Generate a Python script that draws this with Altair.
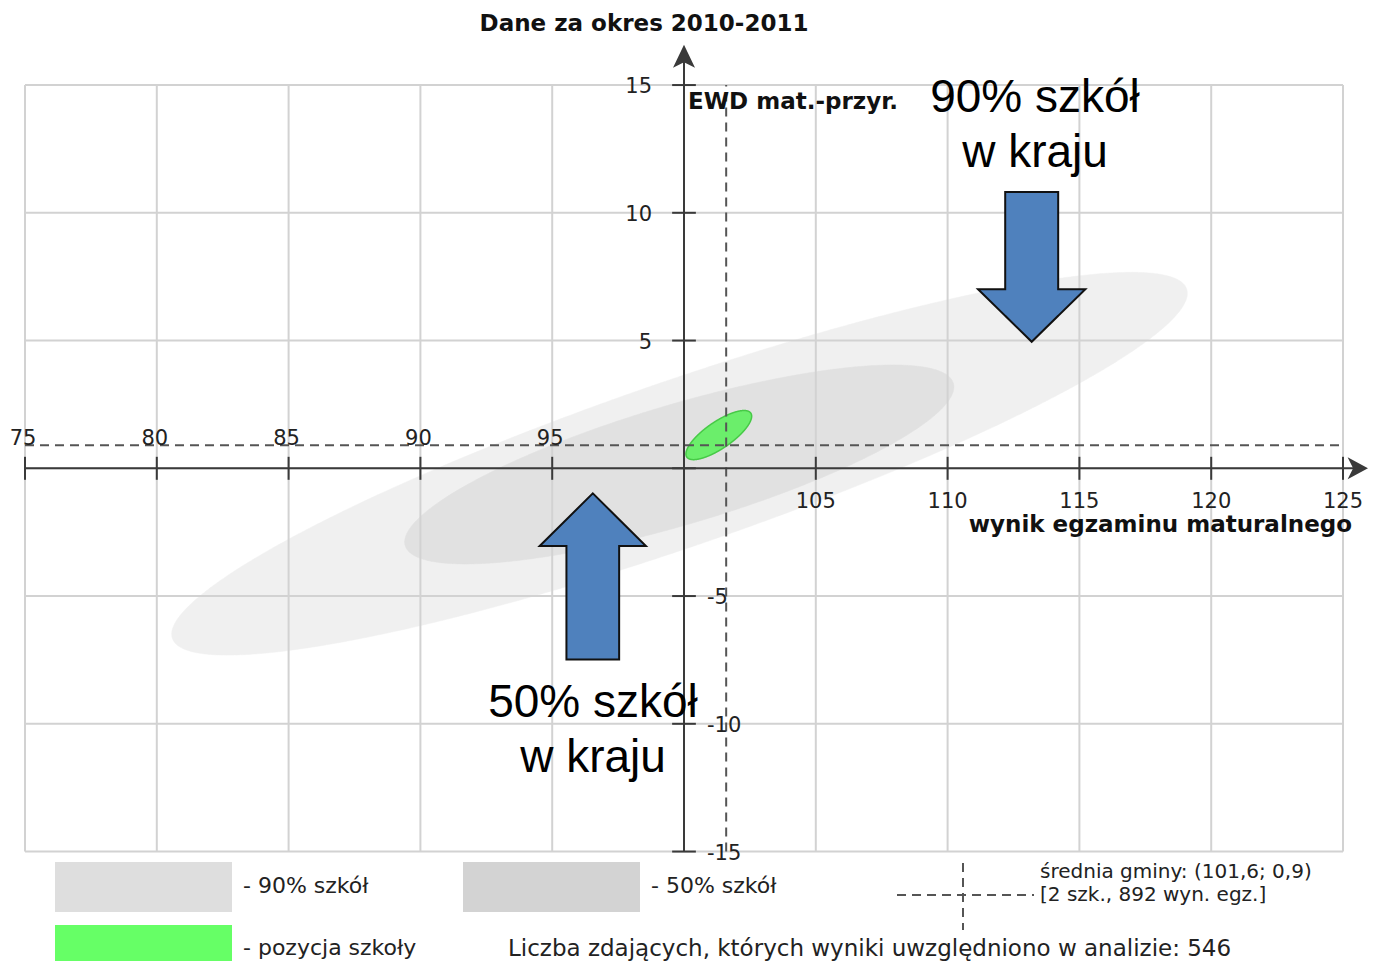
import altair as alt
import numpy as np
import pandas as pd

# ---------------- values ----------------
x_ticks = [75, 80, 85, 90, 95, 100, 105, 110, 115, 120, 125]
y_ticks = [-15, -10, -5, 0, 5, 10, 15]
x_labels_above = [75, 80, 85, 90, 95]
x_labels_below = [105, 110, 115, 120, 125]
y_labels_pos = [5, 10, 15]
y_labels_neg = [-5, -10, -15]

gmina_mean_x = 101.6
gmina_mean_y = 0.9

# ellipses: centre and two conjugate semi-diameters (data units)
ell_names = ["90% szkół", "50% szkół", "pozycja szkoły"]
ell_cx = [99.83, 99.82, 101.32]
ell_cy = [0.18, 0.15, 1.30]
ell_ax = [19.24, 10.40, 1.214]
ell_ay = [6.84, 3.18, 0.860]
ell_bx = [-1.016, -0.646, -0.285]
ell_by = [3.056, 2.25, 0.430]
ell_fill = ["#f0f0f0", "#e1e1e1", "#6bee6b"]
ell_stroke = ["#f0f0f0", "#e1e1e1", "#47c947"]

# block arrows (annotation): tip, head base, shaft end (data units)
arrow_tip_x = [113.19, 96.54]
arrow_tip_y = [4.95, -0.98]
arrow_base_y = [7.01, -3.04]
arrow_end_y = [10.81, -7.48]
arrow_head_half = [2.035, 2.015]
arrow_shaft_half = [1.005, 1.0]

title_text = "Dane za okres 2010-2011"
y_title = "EWD mat.-przyr."
x_title = "wynik egzaminu maturalnego"
note_90 = "90% szkół\nw kraju"
note_50 = "50% szkół\nw kraju"
legend_90 = "- 90% szkół"
legend_50 = "- 50% szkół"
legend_pos = "- pozycja szkoły"
legend_mean_1 = "średnia gminy: (101,6; 0,9)"
legend_mean_2 = "[2 szk., 892 wyn. egz.]"
count_text = "Liczba zdających, których wyniki uwzględniono w analizie: 546"

# ---------------- layout ----------------
W, H = 1363, 953
YMAX = 18.0157
XS = alt.Scale(domain=[74.3551, 126.062], nice=False, zero=False)
YS = alt.Scale(domain=[YMAX - H / 25.55, YMAX], nice=False, zero=False)
FONT = "DejaVu Sans"


def X(f="x"):
    return alt.X(f"{f}:Q", scale=XS, axis=None)


def Y(f="y"):
    return alt.Y(f"{f}:Q", scale=YS, axis=None)


def ellipse_frame(i, n=400):
    cx, cy = ell_cx[i], ell_cy[i]
    M = np.array([[ell_ax[i], ell_bx[i]], [ell_ay[i], ell_by[i]]])
    Mi = np.linalg.inv(M)
    p, q = Mi[0]
    r, s = Mi[1]
    hw = np.hypot(ell_ax[i], ell_bx[i])
    phi = np.linspace(0, np.pi, n)
    dx = -hw * np.cos(phi)
    a2 = q * q + s * s
    b2 = 2 * (p * q + r * s) * dx
    c2 = (p * p + r * r) * dx * dx - 1
    disc = np.sqrt(np.clip(b2 * b2 - 4 * a2 * c2, 0, None))
    lo = (-b2 - disc) / (2 * a2)
    hi = (-b2 + disc) / (2 * a2)
    return pd.DataFrame({"x": cx + dx, "lo": cy + lo, "hi": cy + hi})


def arrow_frame(i):
    tx, ty = arrow_tip_x[i], arrow_tip_y[i]
    by, ey = arrow_base_y[i], arrow_end_y[i]
    hh, sh = arrow_head_half[i], arrow_shaft_half[i]
    eps = 1e-4

    def edge(x):
        return ty + (by - ty) * abs(x - tx) / hh

    xs = [tx - hh, tx - sh, tx - sh + eps, tx, tx + sh - eps, tx + sh, tx + hh]
    e = [edge(x) for x in xs]
    o = [by, by, ey, ey, ey, by, by]
    return pd.DataFrame({"x": xs, "e": e, "o": o})


layers = []

# ellipses
for i in range(3):
    layers.append(
        alt.Chart(ellipse_frame(i)).mark_area(
            color=ell_fill[i], stroke=ell_stroke[i], strokeWidth=1.5 if i == 2 else 0.5,
            opacity=1
        ).encode(x=X(), y=Y("lo"), y2="hi:Q")
    )

# grid
vgrid = pd.DataFrame({"x": x_ticks, "y": -15, "y2": 15})
hgrid = pd.DataFrame({"y": y_ticks, "x": 75, "x2": 125})
layers.append(alt.Chart(vgrid).mark_rule(color="#d2d2d2", strokeWidth=2).encode(
    x=X(), y=Y(), y2="y2:Q"))
layers.append(alt.Chart(hgrid).mark_rule(color="#d2d2d2", strokeWidth=2).encode(
    y=Y(), x=X(), x2="x2:Q"))

# dashed mean lines
layers.append(alt.Chart(pd.DataFrame({"y": [gmina_mean_y], "x": [75], "x2": [125]}))
              .mark_rule(color="#555555", strokeWidth=2, strokeDash=[9, 6])
              .encode(y=Y(), x=X(), x2="x2:Q"))
layers.append(alt.Chart(pd.DataFrame({"x": [gmina_mean_x], "y": [-15], "y2": [15]}))
              .mark_rule(color="#555555", strokeWidth=2, strokeDash=[9, 6])
              .encode(x=X(), y=Y(), y2="y2:Q"))

# axes lines
AX = "#3a3a3a"
layers.append(alt.Chart(pd.DataFrame({"y": [0], "x": [75], "x2": [125.55]}))
              .mark_rule(color=AX, strokeWidth=2).encode(y=Y(), x=X(), x2="x2:Q"))
layers.append(alt.Chart(pd.DataFrame({"x": [100], "y": [-15], "y2": [16.0]}))
              .mark_rule(color=AX, strokeWidth=2).encode(x=X(), y=Y(), y2="y2:Q"))
# ticks
layers.append(alt.Chart(pd.DataFrame({"x": x_ticks, "y": -0.45, "y2": 0.45}))
              .mark_rule(color=AX, strokeWidth=2).encode(x=X(), y=Y(), y2="y2:Q"))
layers.append(alt.Chart(pd.DataFrame({"y": y_ticks, "x": 99.55, "x2": 100.45}))
              .mark_rule(color=AX, strokeWidth=2).encode(y=Y(), x=X(), x2="x2:Q"))
# arrow heads of axes
layers.append(alt.Chart(pd.DataFrame({"x": [125.53], "y": [0]})).mark_point(
    shape="M 1 0 L -0.85 -1 L -0.35 0 L -0.85 1 Z", size=484, filled=True,
    color=AX, opacity=1).encode(x=X(), y=Y()))
layers.append(alt.Chart(pd.DataFrame({"x": [100], "y": [16.06]})).mark_point(
    shape="M 0 -1.2 L 1 0.9 L 0 0.4 L -1 0.9 Z", size=484, filled=True,
    color=AX, opacity=1).encode(x=X(), y=Y()))

# tick labels
lab = dict(font=FONT, fontSize=21, color="#222222")
layers.append(alt.Chart(pd.DataFrame({"x": x_labels_above, "y": 0,
                                      "t": [str(v) for v in x_labels_above]}))
              .mark_text(align="center", baseline="alphabetic", dx=-2, dy=-23, **lab)
              .encode(x=X(), y=Y(), text="t:N"))
layers.append(alt.Chart(pd.DataFrame({"x": x_labels_below, "y": 0,
                                      "t": [str(v) for v in x_labels_below]}))
              .mark_text(align="center", baseline="alphabetic", dx=0, dy=40, **lab)
              .encode(x=X(), y=Y(), text="t:N"))
layers.append(alt.Chart(pd.DataFrame({"y": y_labels_pos, "x": 100,
                                      "t": [str(v) for v in y_labels_pos]}))
              .mark_text(align="right", baseline="alphabetic", dx=-32, dy=8, **lab)
              .encode(x=X(), y=Y(), text="t:N"))
layers.append(alt.Chart(pd.DataFrame({"y": y_labels_neg, "x": 100,
                                      "t": [str(v) for v in y_labels_neg]}))
              .mark_text(align="left", baseline="alphabetic", dx=23, dy=8, **lab)
              .encode(x=X(), y=Y(), text="t:N"))

# axis titles
bold = dict(font=FONT, fontSize=23, fontWeight="bold", color="#111111")
layers.append(alt.Chart(pd.DataFrame({"x": [100], "y": [15], "t": [y_title]}))
              .mark_text(align="left", baseline="alphabetic", dx=4, dy=24, **bold)
              .encode(x=X(), y=Y(), text="t:N"))
layers.append(alt.Chart(pd.DataFrame({"x": [125], "y": [0], "t": [x_title]}))
              .mark_text(align="right", baseline="alphabetic", dx=9, dy=64, **bold)
              .encode(x=X(), y=Y(), text="t:N"))
layers.append(alt.Chart(pd.DataFrame({"t": [title_text]}))
              .mark_text(align="center", baseline="alphabetic", **bold)
              .encode(x=alt.value(636), y=alt.value(23), text="t:N"))

# block arrows
for i in range(2):
    layers.append(alt.Chart(arrow_frame(i)).mark_area(
        color="#4f81bd", stroke="#111111", strokeWidth=2, opacity=1,
        interpolate="linear").encode(x=X(), y=Y("e"), y2="o:Q"))

# big notes
big = dict(font="Liberation Sans", fontSize=46, color="#000000", lineBreak="\n",
           lineHeight=55, align="center", baseline="alphabetic")
layers.append(alt.Chart(pd.DataFrame({"t": [note_90]})).mark_text(**big)
              .encode(x=alt.value(1027), y=alt.value(104), text="t:N"))
layers.append(alt.Chart(pd.DataFrame({"t": [note_50]})).mark_text(**big)
              .encode(x=alt.value(585), y=alt.value(709), text="t:N"))

# legend
one = pd.DataFrame({"k": [0]})
layers.append(alt.Chart(one).mark_rect(color="#dedede").encode(
    x=alt.value(47), x2=alt.value(224), y=alt.value(854), y2=alt.value(904)))
layers.append(alt.Chart(one).mark_rect(color="#d3d3d3").encode(
    x=alt.value(455), x2=alt.value(632), y=alt.value(854), y2=alt.value(904)))
layers.append(alt.Chart(one).mark_rect(color="#66ff66").encode(
    x=alt.value(47), x2=alt.value(224), y=alt.value(917), y2=alt.value(964)))
leg = dict(font=FONT, color="#222222", align="left", baseline="middle")
for txt, xx, yy, fs in [(legend_90, 235, 878, 22), (legend_50, 643, 878, 22),
                        (legend_pos, 235, 940, 22),
                        (legend_mean_1, 1032, 864, 20), (legend_mean_2, 1032, 887, 20),
                        (count_text, 500, 941, 23)]:
    layers.append(alt.Chart(pd.DataFrame({"t": [txt]})).mark_text(fontSize=fs, **leg)
                  .encode(x=alt.value(xx), y=alt.value(yy), text="t:N"))
layers.append(alt.Chart(one).mark_rule(color="#555555", strokeWidth=2, strokeDash=[9, 6]).encode(
    x=alt.value(889), x2=alt.value(1026), y=alt.value(887)))
layers.append(alt.Chart(one).mark_rule(color="#555555", strokeWidth=2, strokeDash=[9, 6]).encode(
    x=alt.value(955), y=alt.value(855), y2=alt.value(922)))

chart = alt.layer(*layers).properties(
    width=W, height=H, padding=0,
    autosize=alt.AutoSizeParams(type="none"),
).configure_view(stroke=None)

chart.save("out.html", embed_options={"renderer": "svg", "actions": False})
